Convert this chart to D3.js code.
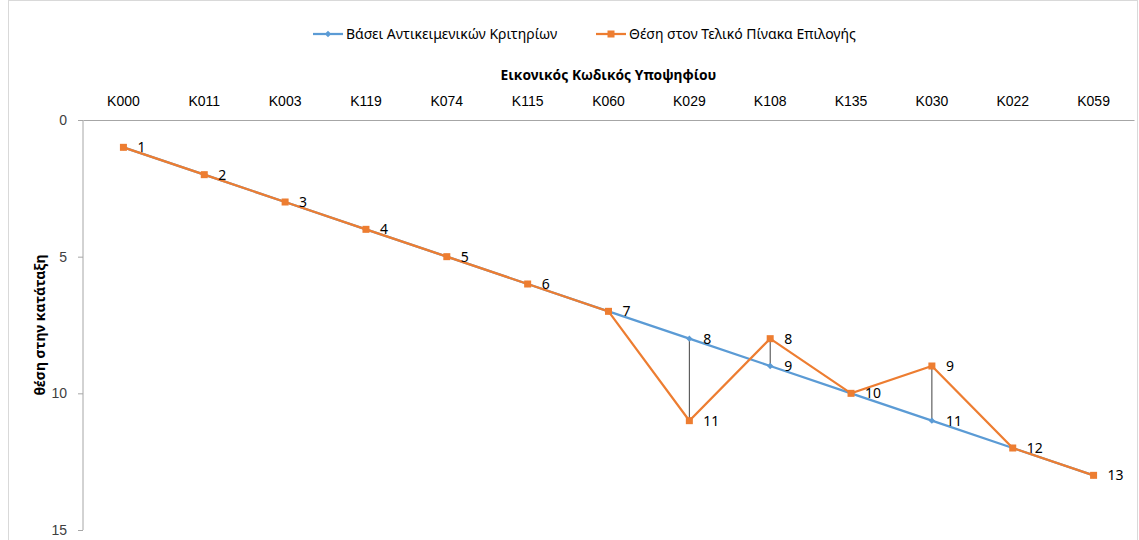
<!DOCTYPE html>
<html><head><meta charset="utf-8">
<script src="https://cdn.jsdelivr.net/npm/d3@7"></script>
<style>body{margin:0;background:#fff;} svg{display:block;font-family:"Noto Sans","Open Sans",sans-serif;}</style>
</head><body>
<svg id="c" width="1139" height="540"></svg>
<script>
const categories = ["K000","K011","K003","K119","K074","K115","K060","K029","K108","K135","K030","K022","K059"];
const objectiveRank = [1,2,3,4,5,6,7,8,9,10,11,12,13];
const finalRank = [1,2,3,4,5,6,7,11,8,10,9,12,13];
const yTicks = [0,5,10,15];
const seriesNames = ["Βάσει Αντικειμενικών Κριτηρίων","Θέση στον Τελικό Πίνακα Επιλογής"];
const xTitle = "Εικονικός Κωδικός Υποψηφίου";
const yTitle = "θέση στην κατάταξη";

const svg = d3.select("#c");
const blue = "#5B9BD5", orange = "#ED7D31";
const L = 83, R = 1134, T = 120, B = 530;

svg.append("rect").attr("x",8.5).attr("y",0.5).attr("width",1129).attr("height",560)
  .attr("fill","none").attr("stroke","#D9D9D9");

const x = d3.scaleBand().domain(categories).range([L,R]);
const y = d3.scaleLinear().domain([0,15]).range([T,B]);
const cx = c => x(c) + x.bandwidth()/2;

// y axis
const yAxis = svg.append("g").attr("transform",`translate(${L},0)`)
  .call(d3.axisLeft(y).tickValues(yTicks).tickSize(5).tickPadding(11));
yAxis.select(".domain").attr("stroke","#A6A6A6").attr("d",`M0,${T}V${B}`);
yAxis.selectAll(".tick line").attr("stroke","#A6A6A6");
yAxis.selectAll(".tick text").attr("font-size",14).attr("fill","#404040");

// x axis at top
const xAxis = svg.append("g").attr("transform",`translate(0,${T})`)
  .call(d3.axisTop(x).tickSize(0).tickPadding(14));
xAxis.select(".domain").attr("stroke","#A6A6A6");
xAxis.selectAll(".tick text").attr("font-size",14).attr("fill","#000");

svg.append("text").attr("x",(L+R)/2).attr("y",80).attr("text-anchor","middle")
  .attr("font-size",13.8).attr("font-weight","bold").text(xTitle);
svg.append("text").attr("transform",`translate(45,${(T+B)/2}) rotate(-90)`)
  .attr("text-anchor","middle").attr("font-size",14).attr("font-weight","bold").text(yTitle);

// high-low lines
svg.append("g").selectAll("line").data(categories).join("line")
  .attr("x1",cx).attr("x2",cx)
  .attr("y1",(c,i)=>y(objectiveRank[i])).attr("y2",(c,i)=>y(finalRank[i]))
  .attr("stroke","#000").attr("stroke-width",0.75);

const line = d3.line().x((d,i)=>cx(categories[i])).y(d=>y(d));
svg.append("path").datum(objectiveRank).attr("d",line).attr("fill","none")
  .attr("stroke",blue).attr("stroke-width",2.25);
svg.append("g").selectAll("path").data(objectiveRank).join("path")
  .attr("d",d3.symbol(d3.symbolDiamond2,26))
  .attr("transform",(d,i)=>`translate(${cx(categories[i])},${y(d)})`).attr("fill",blue);

svg.append("path").datum(finalRank).attr("d",line).attr("fill","none")
  .attr("stroke",orange).attr("stroke-width",2.25);
svg.append("g").selectAll("rect").data(finalRank).join("rect")
  .attr("x",(d,i)=>cx(categories[i])-3.5).attr("y",d=>y(d)-3.5)
  .attr("width",7).attr("height",7).attr("fill",orange);

// labels
const lab = svg.append("g").attr("font-size",14).attr("fill","#000");
objectiveRank.forEach((v,i)=>{
  lab.append("text").attr("x",cx(categories[i])+14).attr("y",y(v)).attr("dy","0.35em").text(v);
});
finalRank.forEach((v,i)=>{
  if (v !== objectiveRank[i])
    lab.append("text").attr("x",cx(categories[i])+14).attr("y",y(v)).attr("dy","0.35em").text(v);
});

// legend
const lg = svg.append("g").attr("font-size",14).attr("fill","#000");
[[313,blue,0],[596,orange,1]].forEach(([lx,col,k])=>{
  lg.append("line").attr("x1",lx).attr("x2",lx+30).attr("y1",34).attr("y2",34)
    .attr("stroke",col).attr("stroke-width",2.25);
  if (k===0) lg.append("path").attr("d",d3.symbol(d3.symbolDiamond2,26)).attr("transform",`translate(${lx+15},34)`).attr("fill",col);
  else lg.append("rect").attr("x",lx+11.5).attr("y",30.5).attr("width",7).attr("height",7).attr("fill",col);
  lg.append("text").attr("x",lx+33).attr("y",34).attr("dy","0.35em").text(seriesNames[k]);
});
</script>
</body></html>
